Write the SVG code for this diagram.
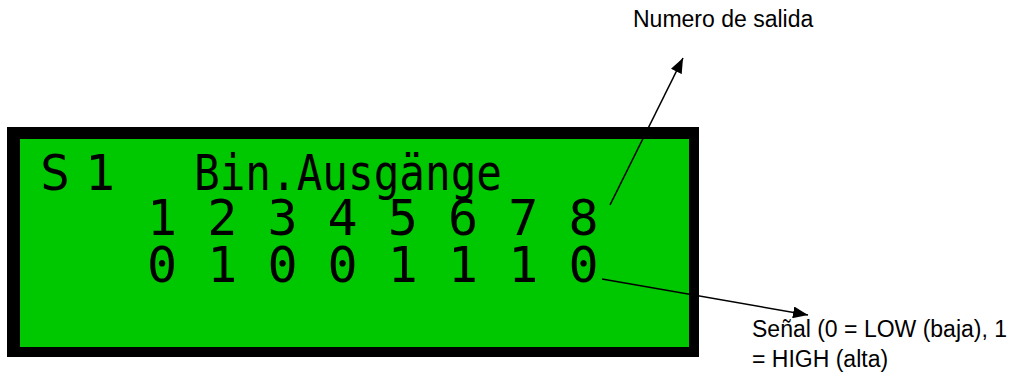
<svg xmlns="http://www.w3.org/2000/svg" width="1012" height="384" viewBox="0 0 1012 384">
  <style>
    .lcd { font-family: "DejaVu Sans Mono", "Liberation Mono", monospace; font-size: 50px; fill: #000000; }
    .lbl { font-family: "Liberation Sans", Arial, sans-serif; font-size: 23px; fill: #000000; }
    .conn { stroke: #000000; stroke-width: 1.6; fill: none; }
  </style>
  <defs>
    <marker id="arrow" markerUnits="userSpaceOnUse" markerWidth="16" markerHeight="12" refX="15" refY="6" orient="auto">
      <path d="M0,0 L15,6 L0,12 z" fill="#000000"/>
    </marker>
  </defs>
  <rect width="1012" height="384" fill="#ffffff"/>
  <g id="lcd-display">
    <rect x="7" y="127" width="692" height="230" fill="#000000"/>
    <rect x="20" y="139" width="669" height="208" fill="#00C800"/>
    <text class="lcd" xml:space="preserve"><tspan x="40" y="190">S</tspan><tspan x="85" y="190">1</tspan><tspan x="194" y="190" textLength="308" lengthAdjust="spacingAndGlyphs">Bin.Ausgänge</tspan><tspan x="147" y="235">1 2 3 4 5 6 7 8</tspan><tspan x="147" y="282">0 1 0 0 1 1 1 0</tspan></text>
  </g>
  <g id="label-numero">
    <text class="lbl" x="633" y="27">Numero de salida</text>
  </g>
  <g id="label-senal">
    <text class="lbl" x="752" y="337">Señal (0 = LOW (baja), 1</text>
    <text class="lbl" x="752" y="367">= HIGH (alta)</text>
  </g>
  <g id="connectors">
    <line class="conn" x1="610" y1="205" x2="683" y2="58" marker-end="url(#arrow)"/>
    <line class="conn" x1="602" y1="279" x2="808" y2="315" marker-end="url(#arrow)"/>
  </g>
</svg>
